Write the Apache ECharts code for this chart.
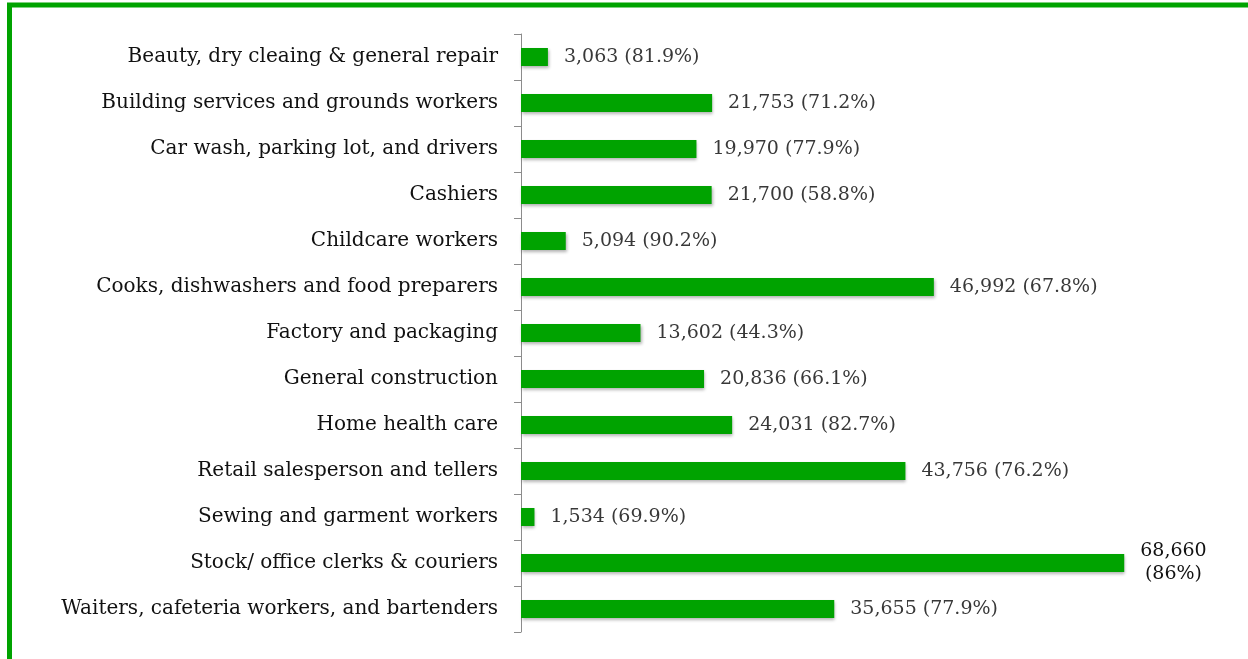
<!DOCTYPE html>
<html>
<head>
<meta charset="utf-8">
<script src="https://cdn.jsdelivr.net/npm/echarts@6/dist/echarts.min.js"></script>
<style>
  html, body { margin: 0; padding: 0; background: #fff; }
  #main { width: 1248px; height: 659px; }
</style>
</head>
<body>
<div id="main"></div>
<script>
// occupations, top to bottom
const categories = [
  'Beauty, dry cleaing & general repair',
  'Building services and grounds workers',
  'Car wash, parking lot, and drivers',
  'Cashiers',
  'Childcare workers',
  'Cooks, dishwashers and food preparers',
  'Factory and packaging',
  'General construction',
  'Home health care',
  'Retail salesperson and tellers',
  'Sewing and garment workers',
  'Stock/ office clerks & couriers',
  'Waiters, cafeteria workers, and bartenders'
]
const workers = [3063, 21753, 19970, 21700, 5094, 46992, 13602, 20836, 24031, 43756, 1534, 68660, 35655]
const shares = [81.9, 71.2, 77.9, 58.8, 90.2, 67.8, 44.3, 66.1, 82.7, 76.2, 69.9, 86, 77.9]

const green = '#00a300'
const maxWorkers = Math.max(...workers)

const chart = echarts.init(document.getElementById('main'))
const option = {
  animation: false,
  graphic: [
    {
      type: 'rect',
      shape: { x: 9.5, y: 5, width: 1300, height: 700 },
      style: { fill: 'none', stroke: green, lineWidth: 5 },
      silent: true
    }
  ],
  grid: { left: 521, right: 112, top: 34, bottom: 27 },
  xAxis: {
    type: 'value',
    min: 0,
    max: 70000,
    show: false
  },
  yAxis: {
    type: 'category',
    data: categories,
    inverse: true,
    axisLine: { show: true, lineStyle: { color: '#8c8c8c', width: 1 } },
    axisTick: { show: true, length: 7, lineStyle: { color: '#8c8c8c' } },
    axisLabel: {
      margin: 23,
      color: '#111',
      fontSize: 20,
      fontFamily: 'DejaVu Serif'
    }
  },
  series: [
    {
      type: 'bar',
      data: workers,
      barWidth: 18,
      itemStyle: {
        color: green,
        shadowColor: 'rgba(0,0,0,0.3)',
        shadowBlur: 3,
        shadowOffsetX: 1,
        shadowOffsetY: 2
      },
      label: {
        show: true,
        position: 'right',
        distance: 16,
        color: '#383838',
        fontSize: 19,
        fontFamily: 'DejaVu Serif',
        formatter: function (p) {
          const v = p.value.toLocaleString('en-US')
          const s = '(' + shares[p.dataIndex] + '%)'
          if (p.value === maxWorkers) {
            return '{c|' + v + '}\n{c|' + s + '}'
          }
          return v + ' ' + s
        },
        rich: {
          c: {
            align: 'center',
            color: '#111',
            fontSize: 19,
            fontFamily: 'DejaVu Serif',
            lineHeight: 23
          }
        }
      }
    }
  ]
}
chart.setOption(option)
</script>
</body>
</html>
